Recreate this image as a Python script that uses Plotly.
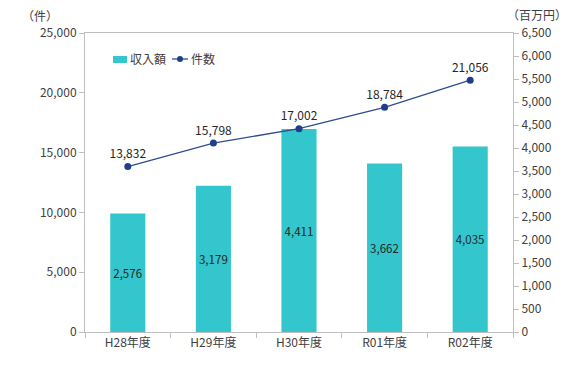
import plotly.graph_objects as go

categories = ["H28年度", "H29年度", "H30年度", "R01年度", "R02年度"]
revenue = [2576, 3179, 4411, 3662, 4035]      # 収入額 (百万円)
counts = [13832, 15798, 17002, 18784, 21056]  # 件数 (件)

font_family = "Noto Sans CJK JP, Noto Sans, sans-serif"
txt = "#404040"
axis_col = "#BFBFBF"
bar_col = "#33C6CC"
line_col = "#2E4D8C"
mark_col = "#1F3F8A"

fig = go.Figure()
fig.add_trace(go.Bar(
    x=categories, y=revenue, name="収入額", yaxis="y",
    marker=dict(color=bar_col, line=dict(width=0)),
    width=0.41,
    text=[f"{v:,}" for v in revenue], textposition="inside",
    insidetextanchor="middle", textangle=0,
    textfont=dict(color="#262626", size=12, family=font_family),
))
fig.add_trace(go.Scatter(
    x=categories, y=counts, name="件数", yaxis="y2",
    mode="lines+markers+text",
    line=dict(color=line_col, width=1.3),
    marker=dict(color=mark_col, size=7),
    text=[f"{v:,}" for v in counts], textposition="top center",
    textfont=dict(color="#262626", size=12, family=font_family),
))

# page has an 8px body margin; keep the figure inside the 576x367 window
W, H = 560, 351
L, T = 77, 25
pw, ph = 428, 299
R, B = W - L - pw, H - T - ph
# viewport -> paper helpers
px = lambda vx: (vx - 8 - L) / pw
py = lambda vy: (T + ph - (vy - 8)) / ph

fig.update_layout(
    width=W, height=H,
    margin=dict(l=L, r=R, t=T, b=B, autoexpand=False),
    paper_bgcolor="white", plot_bgcolor="white",
    font=dict(family=font_family, color=txt, size=12),
    showlegend=False,
    xaxis=dict(showline=True, linecolor=axis_col, linewidth=1, mirror=True,
               ticks="outside", tickcolor=axis_col, ticklen=5,
               tickson="boundaries", showgrid=False, automargin=False,
               tickfont=dict(size=12, color=txt)),
    yaxis=dict(side="right", range=[0, 6500], dtick=500, tickformat=",",
               showline=True, linecolor=axis_col, linewidth=1,
               ticks="outside", tickcolor=axis_col, ticklen=5,
               showgrid=False, zeroline=False, automargin=False,
               tickfont=dict(size=12, color=txt)),
    yaxis2=dict(side="left", overlaying="y", range=[0, 25000], dtick=5000,
                tickformat=",", showline=True, linecolor=axis_col, linewidth=1,
                ticks="outside", tickcolor=axis_col, ticklen=5,
                showgrid=False, zeroline=False, automargin=False,
                tickfont=dict(size=12, color=txt)),
    annotations=[
        dict(text="（件）", xref="paper", yref="paper", x=px(40), y=py(15),
             xanchor="center", yanchor="middle", showarrow=False,
             font=dict(size=12, color=txt)),
        dict(text="（百万円）", xref="paper", yref="paper", x=px(537), y=py(14),
             xanchor="center", yanchor="middle", showarrow=False,
             font=dict(size=12, color=txt)),
        dict(text="収入額", xref="paper", yref="paper", x=px(128), y=py(58),
             xanchor="left", yanchor="middle", showarrow=False,
             font=dict(size=12, color=txt)),
        dict(text="件数", xref="paper", yref="paper", x=px(189), y=py(58),
             xanchor="left", yanchor="middle", showarrow=False,
             font=dict(size=12, color=txt)),
    ],
    shapes=[
        dict(type="rect", xref="paper", yref="paper",
             x0=px(113), x1=px(127), y0=py(63), y1=py(56),
             fillcolor=bar_col, line=dict(width=0)),
        dict(type="line", xref="paper", yref="paper",
             x0=px(172), x1=px(188), y0=py(59), y1=py(59),
             line=dict(color=line_col, width=1.3)),
        dict(type="circle", xref="paper", yref="paper",
             x0=px(177), x1=px(183), y0=py(62), y1=py(56),
             fillcolor=mark_col, line=dict(width=0)),
    ],
)

fig.write_html("out.html")
